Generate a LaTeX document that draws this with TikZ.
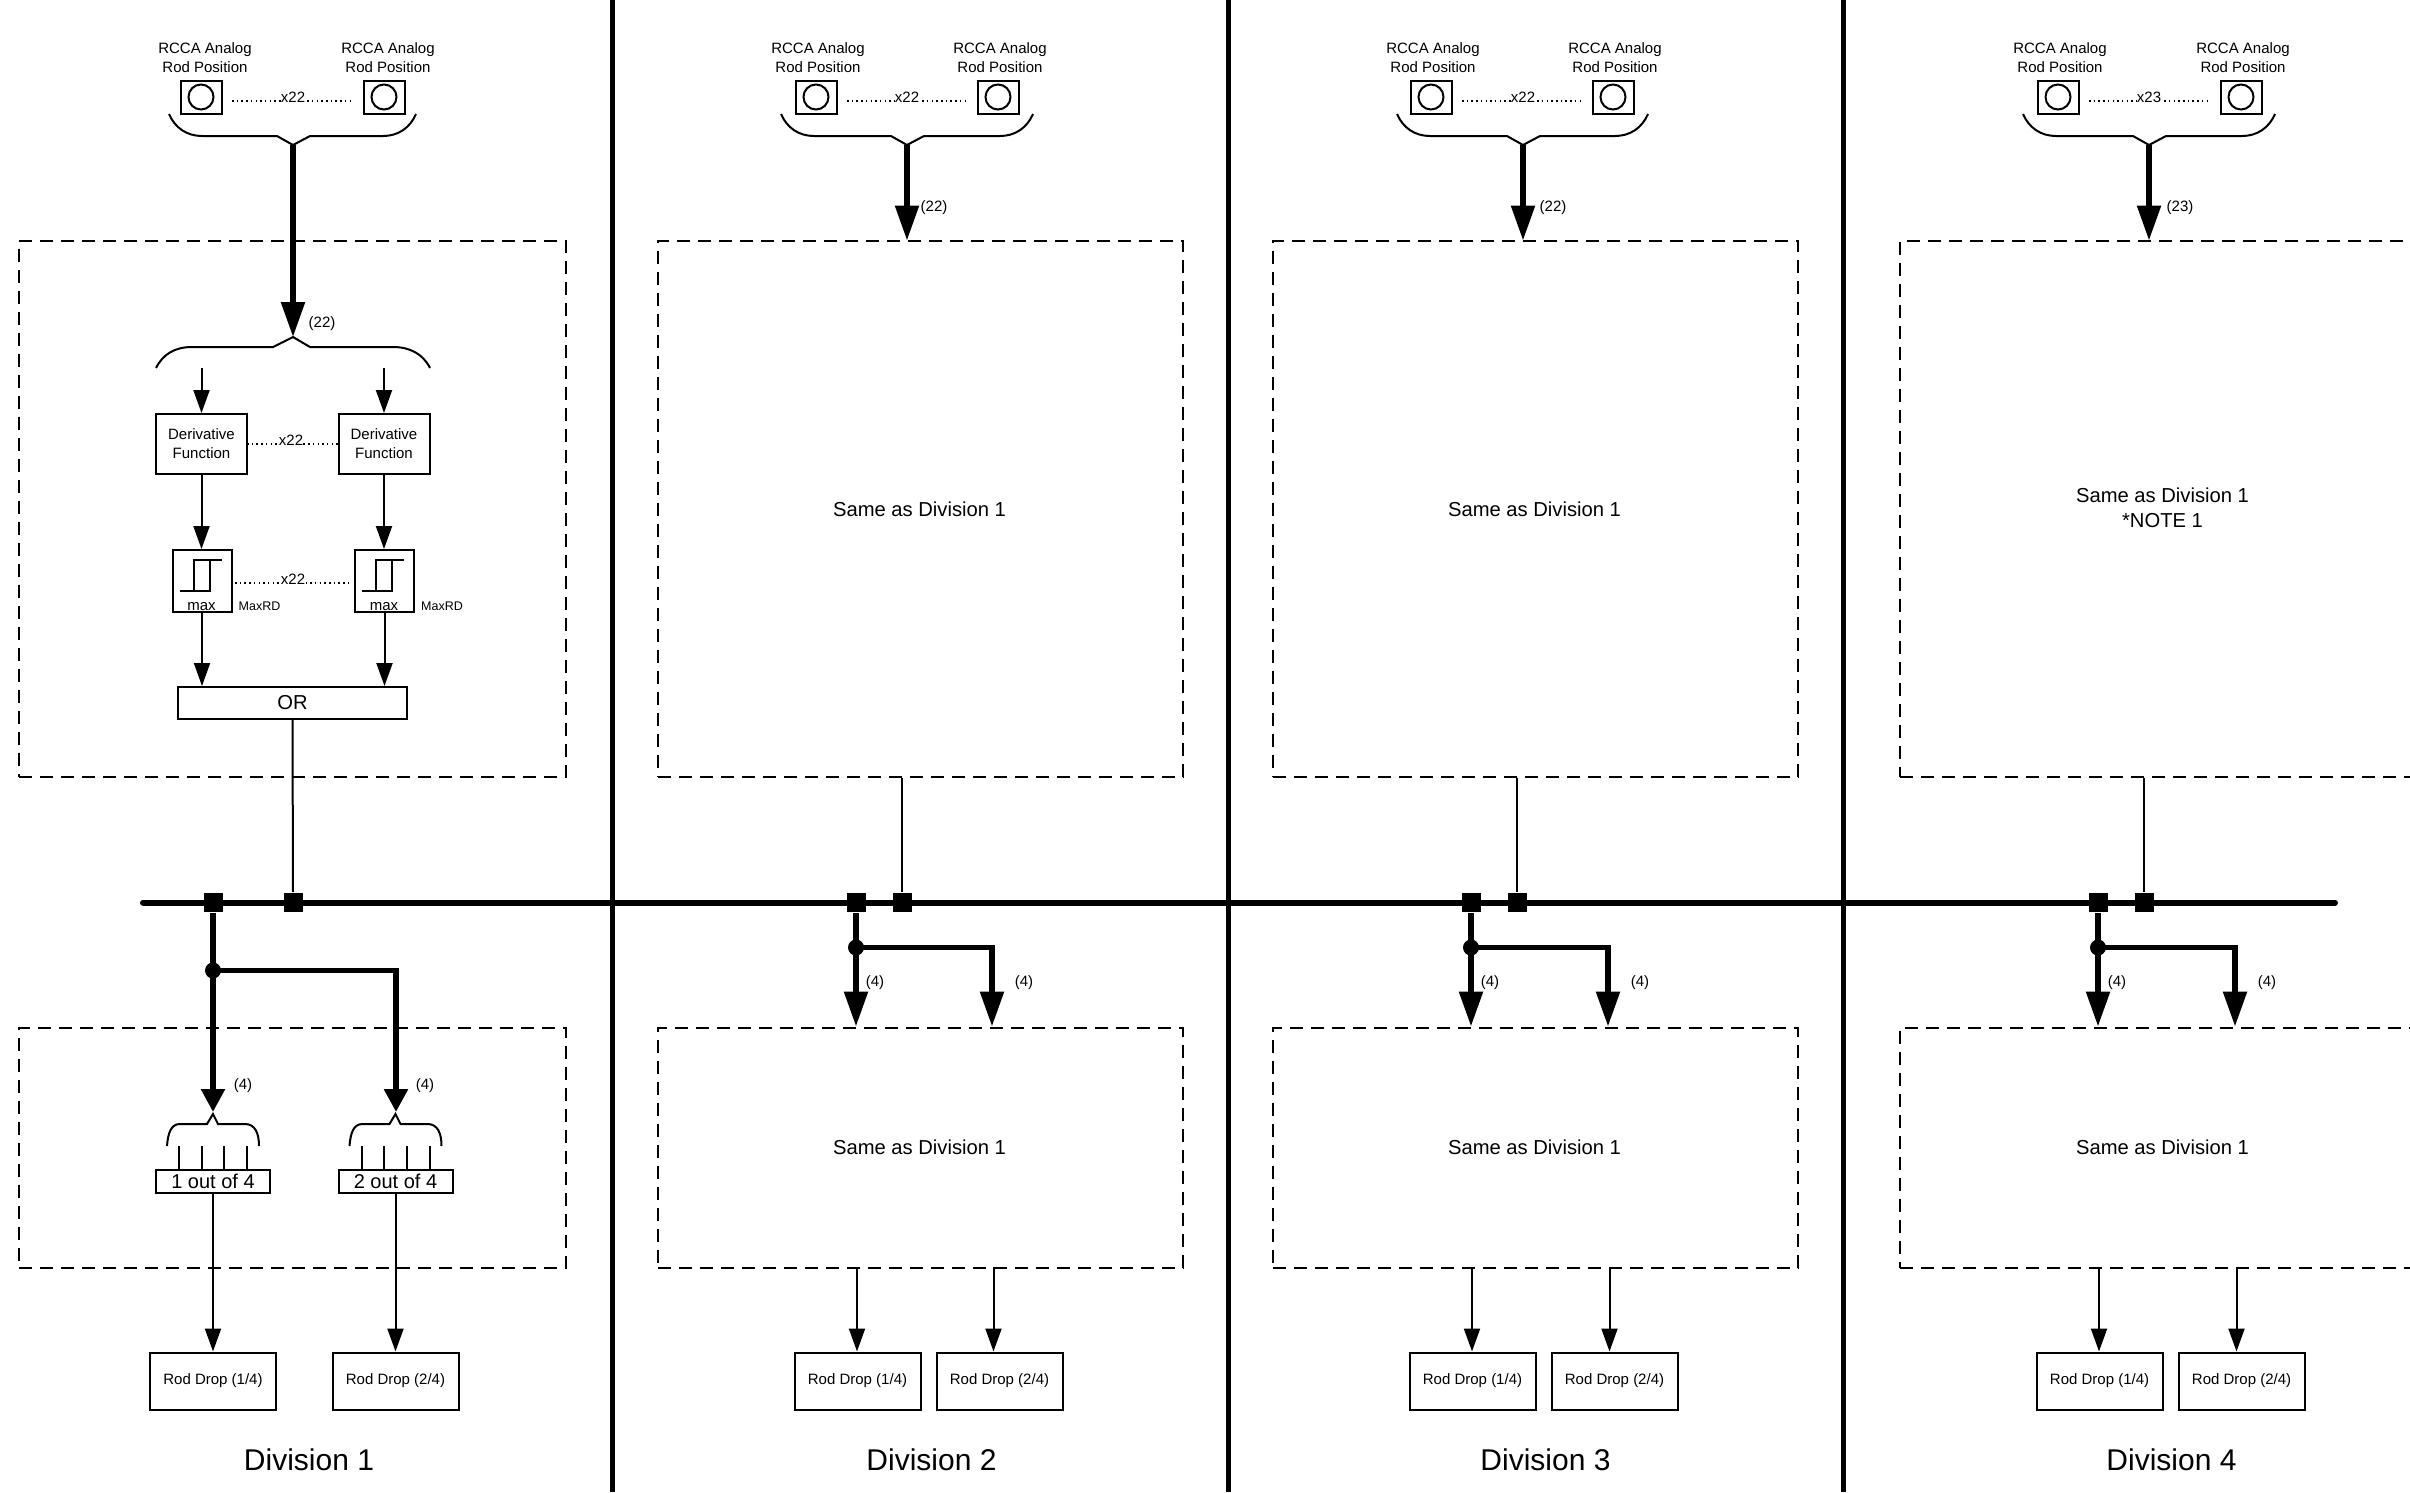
\documentclass[tikz,border=0pt]{standalone}
\usepackage{fontspec}
\setmainfont{Liberation Sans}
\usetikzlibrary{arrows.meta}
\begin{document}
\begin{tikzpicture}[x=1pt,y=-1pt,line width=2pt,
every node/.style={inner sep=0pt,align=center,font=\fontsize{15}{19}\selectfont},
plainbox/.style={draw,minimum width=#1},plainbox/.default=91pt,
rodbox/.style={plainbox=126pt,minimum height=57pt,text height=9.5pt,text depth=3.5pt},
dashbox/.style={draw,dash pattern=on 13pt off 8pt},
thinarrow/.style={-{Triangle[length=23pt,width=16pt]}},
thickarrow/.style={line width=5.5pt,-{Triangle[length=35pt,width=23pt]}},
shortarrow/.style={line width=5.5pt,-{Triangle[length=23pt,width=23pt]}},
dotline/.style={line width=1.5pt,dash pattern=on 1.5pt off 3.2pt},
countlabel/.style={fill=white,inner sep=.3pt},
bigtext/.style={font=\fontsize{20.2}{25}\selectfont}]
\useasboundingbox (0,0) rectangle (2410,1492);
\foreach \n/\x in {1/612,2/1228,3/1843}{\coordinate (dt\n) at (\x,0);\coordinate (dd\n) at (\x,1492);\draw[line width=5pt] (dt\n)--(dd\n);}
\coordinate (bl) at (143,902.5);\coordinate (br) at (2335,902.5);
\draw[line width=6pt,line cap=round] (bl)--(br);
\foreach \n/\cx/\ax/\bx/\lx/\rx/\cnt/\ey/\nx/\ny/\tx in {1/293/201/384/169/416/22/337/322/323.5/4,2/907/816/998/781/1033/22/240.5/934/208/2,3/1523/1431/1613/1397/1648/22/240.5/1553/208/2,4/2149/2058/2241/2023/2275/23/240.5/2180/208/2}{
\node[plainbox=41pt,minimum height=33pt] (sa\n) at (\ax,97) {};\node[plainbox=41pt,minimum height=33pt] (sb\n) at (\bx,97) {};
\draw (sa\n.center) circle (12.5);\draw (sb\n.center) circle (12.5);
\node[anchor=base] at ({\ax+\tx},53) {RCCA Analog};\node[anchor=base] at ({\ax+\tx},72) {Rod Position};
\node[anchor=base] at ({\bx+\tx},53) {RCCA Analog};\node[anchor=base] at ({\bx+\tx},72) {Rod Position};
\coordinate (da\n) at ({\ax+31},101);\coordinate (db\n) at ({\bx-31},101);
\draw[dotline] (da\n)--(db\n);
\node[countlabel] at (\cx,97) {x\cnt};
\draw (\lx,114) .. controls ({\lx+6},128) and ({\lx+18},136) .. ({\lx+33},136) -- ({\cx-16},136) -- (\cx,145) -- ({\cx+17},136) -- ({\rx-33},136) .. controls ({\rx-18},136) and ({\rx-6},128) .. (\rx,114);
\coordinate (tip\n) at (\cx,145);\coordinate (ent\n) at (\cx,\ey);
\draw[thickarrow] (tip\n)--(ent\n);
\node at (\nx,\ny) {(\cnt)};
}
\node[dashbox,minimum width=547pt,minimum height=536pt] (tb1) at (292.5,508.5) {};
\node[dashbox,minimum width=547pt,minimum height=240pt] (bb1) at (292.5,1147.5) {};
\draw (156,368) .. controls (163,354) and (175,347) .. (192,347) -- (273,347) -- (293,337) -- (310,347) -- (393,347) .. controls (410,347) and (423,354) .. (430,368);
\foreach \n/\x in {1/201.5,2/384}{
\coordinate (in\n) at (\x,368);
\node[plainbox,minimum height=60pt] (df\n) at (\x,444) {Derivative\\Function};
\node[plainbox=59pt,minimum height=62pt] (th\n) at ({\x+.5},581) {};
\draw[thinarrow] (in\n)--(in\n |- df\n.north);
\draw[thinarrow] (df\n.south)--(df\n.south |- th\n.north);
\draw ({\x-22},591)--({\x+8},591)--({\x+8},560)--({\x-8},560)--({\x-8},591);\draw ({\x+8},560)--({\x+20},560);
\node at (\x,606.5) {max};
\node[font=\fontsize{12.5}{15}\selectfont] at ({\x+58},606) {MaxRD};
}
\coordinate (dda) at (247,444);\coordinate (ddb) at (338,444);
\draw[dotline] (dda)--(ddb);\node[countlabel] at (291,440) {x22};
\coordinate (dta) at (235,583);\coordinate (dtb) at (351,583);
\draw[dotline] (dta)--(dtb);\node[countlabel] at (293,579) {x22};
\node[plainbox=229pt,minimum height=32pt,bigtext] (or) at (292.5,703) {OR};
\foreach \n in {1,2}{\draw[thinarrow] (th\n.south)--(th\n.south |- or.north);}
\node[fill,minimum size=19pt] (qa1) at (213,902.5) {};\node[fill,minimum size=19pt] (qb1) at (293,902.5) {};
\draw (or.south)--(qb1.north);
\node[fill,circle,minimum size=16pt] (ja1) at (213,970.5) {};
\coordinate (tl1) at (213,1112);\coordinate (tr1) at (396,1112);
\draw[shortarrow] (qa1.south)--(tl1);\draw[shortarrow] (ja1.center)-|(tr1);
\node at (243,1085.5) {(4)};\node at (425,1085.5) {(4)};
\foreach \n/\x/\k in {1/213/1,2/395.5/2}{
\node[plainbox=114pt,minimum height=23pt,font=\fontsize{20}{22}\selectfont] (ot\n) at (\x,1181) {\k{} out of 4};
\draw ({\x-46},1146) .. controls ({\x-45},1133) and ({\x-42},1124) .. ({\x-33},1124) -- ({\x-6},1124) -- (\x,1114) -- ({\x+5},1124) -- ({\x+32},1124) .. controls ({\x+42},1124) and ({\x+46},1133) .. ({\x+46},1146);
\foreach \t in {-34,-11.5,11,34}{\coordinate (tk) at ({\x+\t},1146);\draw (tk)--(tk |- ot\n.north);}
\node[rodbox] (rd\n) at (\x,1381) {Rod Drop (\k/4)};
\draw[thinarrow] (ot\n.south)--(ot\n.south |- rd\n.north);
}
\node[font=\fontsize{30}{36}\selectfont] at (309,1460) {Division 1};
\foreach \n/\bl/\br/\qx/\rx/\sx/\dx in {2/658/1183/856/992/919.5/931.5,3/1273/1798/1471/1608/1534.5/1545.5,4/1900/2440/2098/2235/2162.5/2171.5}{
\node[dashbox,minimum width={(\br-\bl)*1pt},minimum height=536pt] (tb\n) at ({(\bl+\br)/2},508.5) {};
\node[dashbox,minimum width={(\br-\bl)*1pt},minimum height=240pt] (bb\n) at ({(\bl+\br)/2},1147.5) {};
\node[fill,minimum size=19pt] (qa\n) at (\qx,902.5) {};\node[fill,minimum size=19pt] (qb\n) at ({\qx+46},902.5) {};
\draw (qb\n.north |- tb\n.south)--(qb\n.north);
\node[fill,circle,minimum size=16pt] (ja\n) at (\qx,947.5) {};
\coordinate (tl\n) at (\qx,1026.5);\coordinate (tr\n) at (\rx,1026.5);
\draw[thickarrow] (qa\n.south)--(tl\n);\draw[thickarrow] (ja\n.center)-|(tr\n);
\node at ({\qx+19},983) {(4)};\node at ({\rx+32},983) {(4)};
\node[rodbox] (rda\n) at ({\qx+1.5},1381) {Rod Drop (1/4)};
\node[rodbox] (rdb\n) at ({\qx+143.5},1381) {Rod Drop (2/4)};
\coordinate (oa\n) at ({\qx+1},1267);\coordinate (ob\n) at ({\rx+1.5},1267);
\draw[thinarrow] (oa\n)--(oa\n |- rda\n.north);\draw[thinarrow] (ob\n)--(ob\n |- rdb\n.north);
\node[bigtext] at (\sx,1147) {Same as Division 1};
\node[font=\fontsize{30}{36}\selectfont] at (\dx,1460) {Division \n};
}
\node[bigtext] at (919.5,509) {Same as Division 1};\node[bigtext] at (1534.5,509) {Same as Division 1};
\node[bigtext] at (2162.5,508) {Same as Division 1\\*NOTE 1};
\end{tikzpicture}
\end{document}
